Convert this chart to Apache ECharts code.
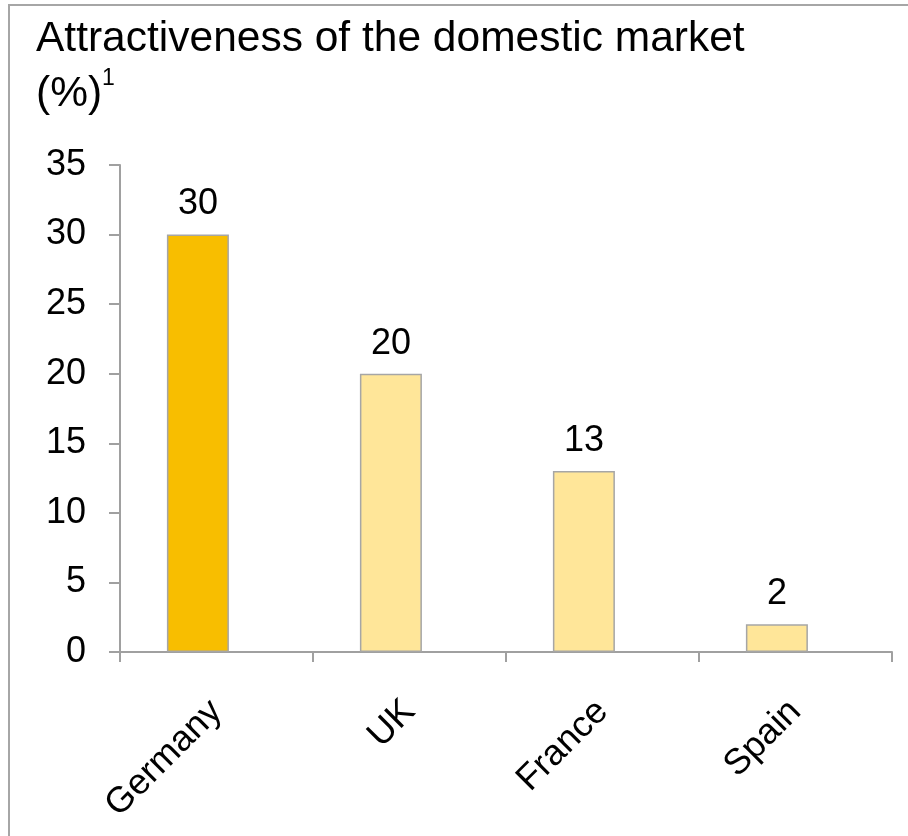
<!DOCTYPE html>
<html>
<head>
<meta charset="utf-8">
<script src="https://cdn.jsdelivr.net/npm/echarts@6/dist/echarts.min.js"></script>
<style>
html,body{margin:0;padding:0;background:#fff;}
#chart{width:908px;height:836px;}
</style>
</head>
<body>
<div id="chart"></div>
<script>
const categories = ['Germany', 'UK', 'France', 'Spain'];
const values = [30, 20, 13, 2];
const highlightIndex = 0;
const yTicks = { min: 0, max: 35, interval: 5 };
const titleLine1 = 'Attractiveness of the domestic market';
const titleLine2 = '(%)';
const footnoteMark = '1';

const FONT = '"Liberation Sans", Arial, sans-serif';
const chart = echarts.init(document.getElementById('chart'));

const barData = values.map((v, i) => ({
  value: v,
  itemStyle: { color: i === highlightIndex ? '#F8BE00' : '#FFE699' }
}));

chart.setOption({
  animation: false,
  backgroundColor: '#fff',
  graphic: [{
    type: 'rect',
    shape: { x: 9, y: 5, width: 920, height: 860 },
    style: { fill: 'none', stroke: '#a6a6a6', lineWidth: 2 },
    silent: true
  }],
  title: {
    left: 36,
    top: 12,
    padding: 0,
    text: titleLine1 + '\n' + titleLine2 + '{s|' + footnoteMark + '}',
    textStyle: {
      fontFamily: FONT,
      fontSize: 42.5,
      fontWeight: 'normal',
      color: '#000',
      lineHeight: 55,
      rich: {
        s: { fontFamily: FONT, fontSize: 23, verticalAlign: 'top', lineHeight: 55, padding: [0, 0, 14, 0] }
      }
    }
  },
  grid: { left: 120, right: 16, top: 165, bottom: 184, containLabel: false },
  xAxis: {
    type: 'category',
    data: categories,
    axisLine: { show: true, lineStyle: { color: '#a0a0a0', width: 2 } },
    axisTick: { show: true, alignWithLabel: false, length: 10, lineStyle: { color: '#a0a0a0', width: 2 } },
    axisLabel: { rotate: 45, fontFamily: FONT, fontSize: 36, color: '#000', margin: 54, interval: 0 },
    splitLine: { show: false }
  },
  yAxis: {
    type: 'value',
    min: yTicks.min,
    max: yTicks.max,
    interval: yTicks.interval,
    axisLine: { show: true, lineStyle: { color: '#a0a0a0', width: 2 } },
    axisTick: { show: true, length: 11, lineStyle: { color: '#a0a0a0', width: 2 } },
    axisLabel: { fontFamily: FONT, fontSize: 36, color: '#000', margin: 34 },
    splitLine: { show: false }
  },
  series: [
    {
      type: 'bar',
      data: barData,
      barWidth: 62,
      barGap: '-40%',
      itemStyle: { borderColor: '#a6a6a6', borderWidth: 1.5 },
      label: { show: true, position: 'top', distance: 12, fontFamily: FONT, fontSize: 36, color: '#000' },
      silent: true
    },
    {
      type: 'bar',
      data: values.map(() => '-'),
      barWidth: 62,
      silent: true
    }
  ]
});
</script>
</body>
</html>
